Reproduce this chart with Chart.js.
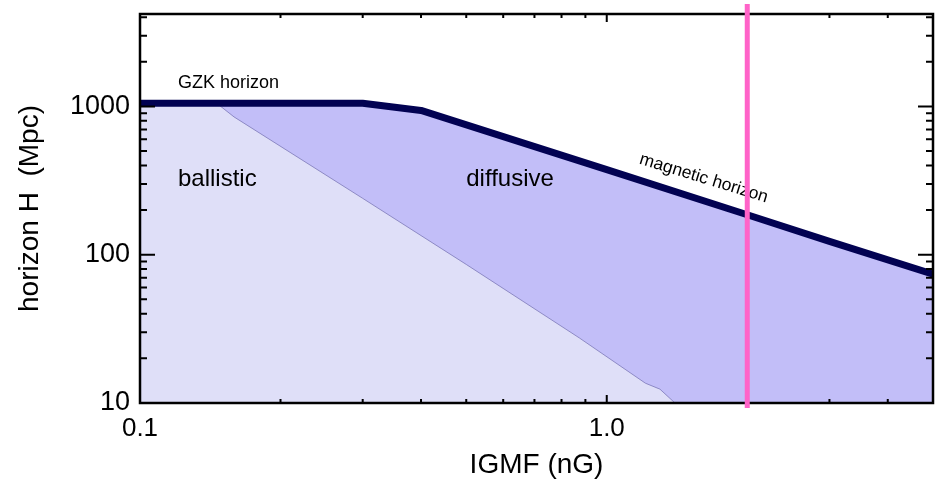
<!DOCTYPE html>
<html>
<head>
<meta charset="utf-8">
<script src="https://cdn.jsdelivr.net/npm/chart.js@4.4.1/dist/chart.umd.min.js"></script>
<style>
  html, body { margin: 0; padding: 0; background: #fff; }
</style>
</head>
<body>
<canvas id="chart" width="942" height="483"></canvas>
<script>
// horizon (GZK + magnetic) vs field strength
const horizonB = [0.1, 0.3, 0.4, 1.0, 2.0, 3.0, 5.0];
const horizonH = [1050, 1050, 940, 375, 186, 123, 74];
// ballistic / diffusive boundary
const ballisticB = [0.1, 0.146, 0.159, 0.3, 0.5, 0.873, 1.21, 1.30, 1.40];
const ballisticH = [1050, 1050, 850, 240, 86, 27.5, 13.6, 12.4, 10];
// vertical marker
const markerB = 2.0;

const xLabelled = [0.1, 1.0];
const yLabelled = [10, 100, 1000];
const xMinor = [0.2, 0.3, 0.4, 0.5, 0.6, 0.7, 0.8, 0.9, 2, 3, 4];
const yMinor = [20, 30, 40, 50, 60, 70, 80, 90, 200, 300, 400, 500, 600, 700, 800, 900, 2000, 3000, 4000];

const FONT = "'Liberation Sans', Arial, sans-serif";

const toPoints = (xs, ys) => xs.map((x, i) => ({ x: x, y: ys[i] }));
const noEdgePadding = s => { s.paddingTop = 0; s.paddingBottom = 0; s.paddingLeft = 0; s.paddingRight = 0; };

// frame, inward ticks, marker line and the labels in the plot
const decorations = {
    id: "decorations",
    afterDraw(chart) {
        const ctx = chart.ctx;
        const a = chart.chartArea;
        const xs = chart.scales.x;
        const ys = chart.scales.y;
        ctx.save();
        ctx.strokeStyle = "#000";

        // ticks
        ctx.lineWidth = 2;
        const tickX = (v, len) => {
            const px = xs.getPixelForValue(v);
            ctx.beginPath();
            ctx.moveTo(px, a.bottom); ctx.lineTo(px, a.bottom - len);
            ctx.moveTo(px, a.top); ctx.lineTo(px, a.top + len);
            ctx.stroke();
        };
        const tickY = (v, len) => {
            const py = ys.getPixelForValue(v);
            ctx.beginPath();
            ctx.moveTo(a.left, py); ctx.lineTo(a.left + len, py);
            ctx.moveTo(a.right, py); ctx.lineTo(a.right - len, py);
            ctx.stroke();
        };
        xLabelled.forEach(v => tickX(v, 8));
        xMinor.forEach(v => tickX(v, 4));
        yLabelled.forEach(v => tickY(v, 15));
        yMinor.forEach(v => tickY(v, 7));

        // frame
        ctx.lineWidth = 2.5;
        ctx.strokeRect(a.left, a.top, a.right - a.left, a.bottom - a.top);

        // text
        ctx.fillStyle = "#000";
        ctx.textBaseline = "alphabetic";
        ctx.textAlign = "left";
        ctx.font = "18px " + FONT;
        ctx.fillText("GZK horizon", xs.getPixelForValue(0.1206), ys.getPixelForValue(1330));
        ctx.font = "24px " + FONT;
        ctx.fillText("ballistic", xs.getPixelForValue(0.1206), ys.getPixelForValue(290));
        ctx.fillText("diffusive", xs.getPixelForValue(0.5), ys.getPixelForValue(290));

        ctx.save();
        ctx.translate(xs.getPixelForValue(1.17), ys.getPixelForValue(412));
        ctx.rotate(17 * Math.PI / 180);
        ctx.font = "17.5px " + FONT;
        ctx.fillText("magnetic horizon", 0, 0);
        ctx.restore();

        // marker line
        const mx = xs.getPixelForValue(markerB);
        ctx.strokeStyle = "#ff63c8";
        ctx.lineWidth = 5;
        ctx.beginPath();
        ctx.moveTo(mx, 4);
        ctx.lineTo(mx, a.bottom + 5);
        ctx.stroke();
        ctx.restore();
    }
};

new Chart(document.getElementById("chart").getContext("2d"), {
    type: "line",
    data: {
        datasets: [
            {
                // magnetic / GZK horizon line on top
                data: toPoints(horizonB, horizonH),
                borderColor: "#020252",
                borderWidth: 7,
                borderJoinStyle: "round",
                fill: false,
                pointRadius: 0,
                order: 0
            },
            {
                // ballistic region
                data: toPoints(ballisticB, ballisticH),
                borderColor: "#7c78b8",
                borderWidth: 0.8,
                backgroundColor: "#dfdff8",
                fill: "start",
                pointRadius: 0,
                order: 1
            },
            {
                // diffusive region
                data: toPoints(horizonB, horizonH),
                borderWidth: 0,
                borderColor: "rgba(0,0,0,0)",
                backgroundColor: "#c2bef8",
                fill: "start",
                pointRadius: 0,
                order: 2
            }
        ]
    },
    options: {
        responsive: false,
        animation: false,
        devicePixelRatio: 1,
        layout: { padding: { top: 14, right: 9, left: 0, bottom: 0 } },
        plugins: {
            legend: { display: false },
            tooltip: { enabled: false }
        },
        scales: {
            x: {
                type: "logarithmic",
                min: 0.1,
                max: 5,
                afterFit: s => { s.height = 80; noEdgePadding(s); },
                afterBuildTicks: s => { s.ticks = xLabelled.map(v => ({ value: v })); },
                grid: { display: false, drawTicks: false },
                border: { display: false },
                ticks: {
                    padding: 10,
                    color: "#000",
                    font: { family: FONT, size: 26 },
                    maxRotation: 0,
                    autoSkip: false,
                    callback: v => v.toFixed(1)
                },
                title: {
                    display: true,
                    text: "IGMF (nG)",
                    color: "#000",
                    font: { family: FONT, size: 28 },
                    padding: { top: 0, bottom: 1 }
                }
            },
            y: {
                type: "logarithmic",
                min: 10,
                max: 4200,
                afterFit: s => { s.width = 140; noEdgePadding(s); },
                afterBuildTicks: s => { s.ticks = yLabelled.map(v => ({ value: v })); },
                grid: { display: false, drawTicks: false },
                border: { display: false },
                ticks: {
                    padding: 10,
                    color: "#000",
                    font: { family: FONT, size: 27 },
                    autoSkip: false,
                    callback: v => String(v)
                },
                title: {
                    display: true,
                    text: "horizon H  (Mpc)",
                    color: "#000",
                    font: { family: FONT, size: 28 },
                    padding: { top: 13, bottom: 0 }
                }
            }
        }
    },
    plugins: [decorations]
});
</script>
</body>
</html>
